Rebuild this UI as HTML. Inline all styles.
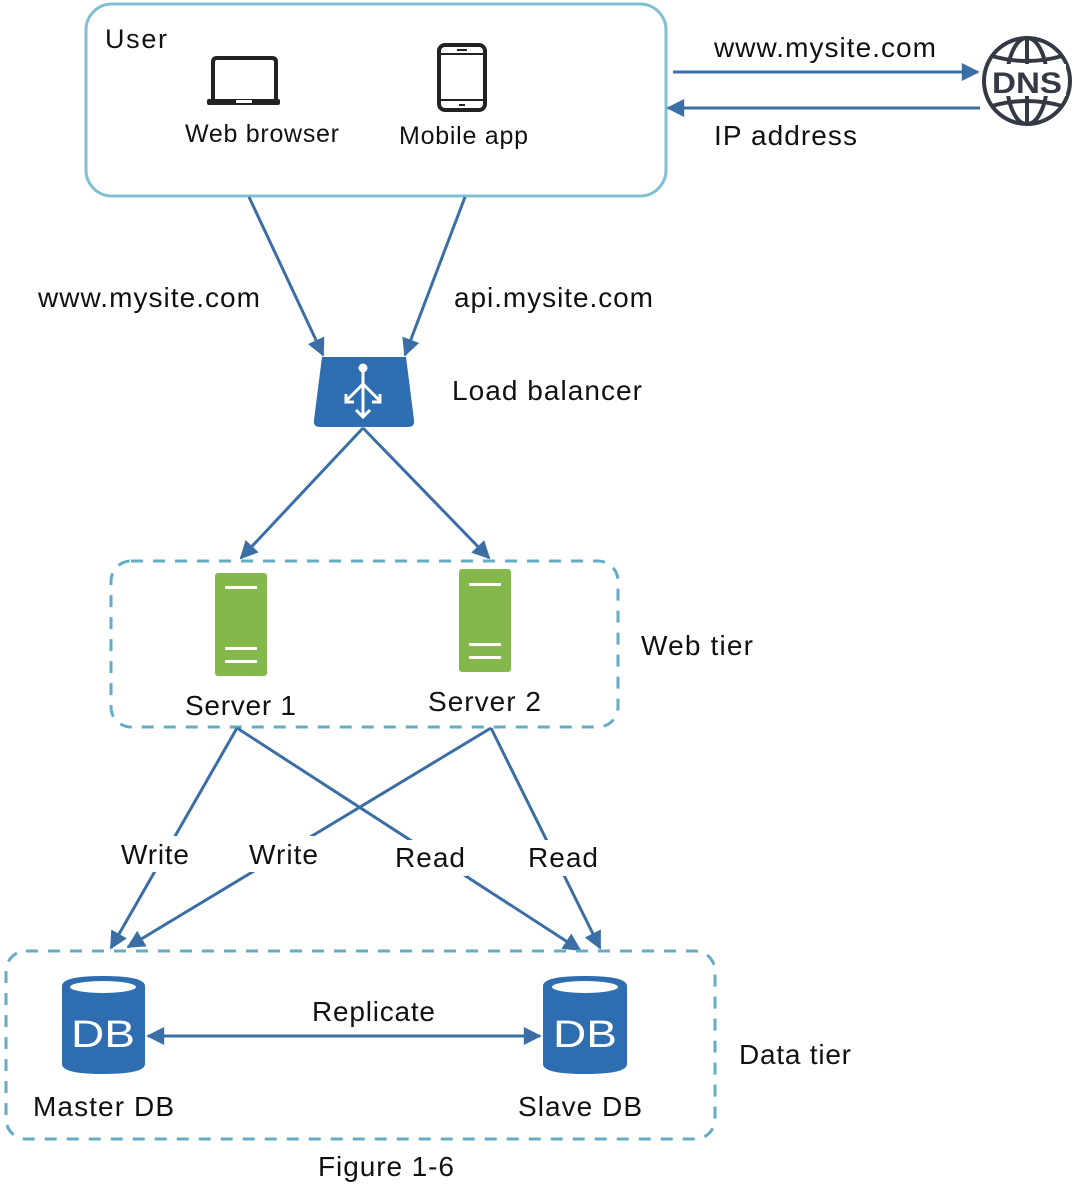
<!DOCTYPE html>
<html><head><meta charset="utf-8"><style>
html,body{margin:0;padding:0;background:#fff;}
svg{display:block;}
text{font-family:"Liberation Sans",sans-serif;fill:#111;}
</style></head><body>
<svg width="1077" height="1186" viewBox="0 0 1077 1186" xmlns="http://www.w3.org/2000/svg">
<defs>
<marker id="ab" viewBox="0 0 10 10" refX="9" refY="5" markerWidth="24" markerHeight="18" markerUnits="userSpaceOnUse" orient="auto-start-reverse">
<path d="M0,0 L10,5 L0,10 z" fill="#3a6ea5"/>
</marker>
</defs>

<rect x="86" y="4" width="580" height="192" rx="26" fill="none" stroke="#7fbfd4" stroke-width="3"/>
<text x="105" y="48" font-size="27" textLength="62">User</text>
<path d="M213,102 V62 Q213,58 217,58 H272 Q276,58 276,62 V102" fill="none" stroke="#222" stroke-width="4"/>
<rect x="207" y="99" width="73" height="6" rx="2" fill="#222"/>
<rect x="236" y="100" width="16" height="3" fill="#fff"/>
<text x="185" y="142" font-size="25" textLength="154">Web browser</text>
<rect x="439" y="45" width="46" height="65" rx="6" fill="none" stroke="#222" stroke-width="4"/>
<line x1="441" y1="54" x2="483" y2="54" stroke="#222" stroke-width="2"/>
<line x1="441" y1="100" x2="483" y2="100" stroke="#222" stroke-width="2"/>
<rect x="457" y="49" width="10" height="2" fill="#222"/>
<rect x="459" y="104" width="6" height="2" fill="#222"/>
<text x="399" y="144" font-size="25" textLength="129">Mobile app</text>

<line x1="673" y1="72" x2="978" y2="72" stroke="#3a6ea5" stroke-width="3" marker-end="url(#ab)"/>
<line x1="980" y1="108" x2="668" y2="108" stroke="#3a6ea5" stroke-width="3" marker-end="url(#ab)"/>
<text x="714" y="57" font-size="28" textLength="222">www.mysite.com</text>
<text x="714" y="145" font-size="28" textLength="143">IP address</text>
<g fill="none" stroke="#333a45" stroke-width="4">
<circle cx="1027" cy="81" r="43"/>
<ellipse cx="1027" cy="81" rx="20" ry="43"/>
<line x1="1027" y1="38" x2="1027" y2="124"/>
<path d="M992,56 Q1027,66 1062,56"/>
<path d="M992,106 Q1027,96 1062,106"/>
</g>
<rect x="990" y="64" width="76" height="32" fill="#fff"/>
<text x="992" y="93" font-size="30" font-weight="bold" style="fill:#333a45" textLength="70" lengthAdjust="spacingAndGlyphs">DNS</text>

<line x1="249" y1="197" x2="323" y2="355" stroke="#3a6ea5" stroke-width="3" marker-end="url(#ab)"/>
<line x1="465" y1="197" x2="405" y2="355" stroke="#3a6ea5" stroke-width="3" marker-end="url(#ab)"/>
<text x="38" y="307" font-size="28" textLength="222">www.mysite.com</text>
<text x="454" y="307" font-size="28" textLength="199">api.mysite.com</text>

<path d="M322,357 H406 L414,420 Q415,427 408,427 H320 Q313,427 314,420 Z" fill="#2e6db0"/>
<g stroke="#fff" stroke-width="3" fill="none">
<circle cx="363" cy="368" r="3" fill="#fff"/>
<line x1="363" y1="368" x2="363" y2="417"/>
<line x1="363" y1="384" x2="346" y2="401"/>
<line x1="363" y1="384" x2="380" y2="401"/>
<path d="M346,394 V402 H354"/>
<path d="M380,394 V402 H372"/>
<path d="M356,410 L363,417 L370,410"/>
</g>
<text x="452" y="400" font-size="28" textLength="190">Load balancer</text>
<line x1="363" y1="428" x2="241" y2="558" stroke="#3a6ea5" stroke-width="3" marker-end="url(#ab)"/>
<line x1="363" y1="428" x2="489" y2="558" stroke="#3a6ea5" stroke-width="3" marker-end="url(#ab)"/>

<rect x="111" y="561" width="507" height="166" rx="20" fill="none" stroke="#62acc6" stroke-width="3" stroke-dasharray="12,10"/>
<rect x="215" y="573" width="52" height="103" rx="3" fill="#84b84a"/>
<rect x="225" y="586" width="32" height="3" fill="#fff"/>
<rect x="225" y="647" width="32" height="3" fill="#fff"/>
<rect x="225" y="660" width="32" height="3" fill="#fff"/>
<rect x="459" y="569" width="52" height="103" rx="3" fill="#84b84a"/>
<rect x="469" y="583" width="32" height="3" fill="#fff"/>
<rect x="469" y="643" width="32" height="3" fill="#fff"/>
<rect x="469" y="656" width="32" height="3" fill="#fff"/>
<text x="185" y="715" font-size="28" textLength="111">Server 1</text>
<text x="428" y="711" font-size="28" textLength="113">Server 2</text>
<text x="641" y="655" font-size="28" textLength="112">Web tier</text>

<g stroke="#3a6ea5" stroke-width="3" fill="none">
<path d="M237,728 L111,948" marker-end="url(#ab)"/>
<path d="M491,728 L128,947" marker-end="url(#ab)"/>
<path d="M237,728 L580,950" marker-end="url(#ab)"/>
<path d="M491,728 L600,948" marker-end="url(#ab)"/>
</g>
<rect x="118" y="836" width="75" height="36" fill="#fff"/>
<rect x="246" y="836" width="75" height="36" fill="#fff"/>
<rect x="392" y="840" width="75" height="36" fill="#fff"/>
<rect x="526" y="840" width="75" height="36" fill="#fff"/>
<text x="121" y="864" font-size="28" textLength="68">Write</text>
<text x="249" y="864" font-size="28" textLength="69">Write</text>
<text x="395" y="867" font-size="28" textLength="70">Read</text>
<text x="528" y="867" font-size="28" textLength="70">Read</text>

<rect x="6" y="951" width="709" height="188" rx="20" fill="none" stroke="#62acc6" stroke-width="3" stroke-dasharray="12,10"/>
<path d="M62,986 Q62,976 103,976 Q145,976 145,986 V1064 Q145,1074 103,1074 Q62,1074 62,1064 Z" fill="#2e6db0"/>
<ellipse cx="103" cy="987" rx="33" ry="6" fill="#fff"/>
<text x="71" y="1047" font-size="38" style="fill:#fff" textLength="64" lengthAdjust="spacingAndGlyphs">DB</text>
<path d="M543,986 Q543,976 585,976 Q627,976 627,986 V1064 Q627,1074 585,1074 Q543,1074 543,1064 Z" fill="#2e6db0"/>
<ellipse cx="585" cy="987" rx="33" ry="6" fill="#fff"/>
<text x="553" y="1047" font-size="38" style="fill:#fff" textLength="64" lengthAdjust="spacingAndGlyphs">DB</text>
<line x1="148" y1="1036" x2="540" y2="1036" stroke="#3a6ea5" stroke-width="3" marker-start="url(#ab)" marker-end="url(#ab)"/>
<text x="312" y="1021" font-size="28" textLength="123">Replicate</text>
<text x="33" y="1116" font-size="28" textLength="141">Master DB</text>
<text x="518" y="1116" font-size="28" textLength="124">Slave DB</text>
<text x="739" y="1064" font-size="28" textLength="112">Data tier</text>
<text x="318" y="1176" font-size="28" textLength="136">Figure 1-6</text>
</svg>
</body></html>
